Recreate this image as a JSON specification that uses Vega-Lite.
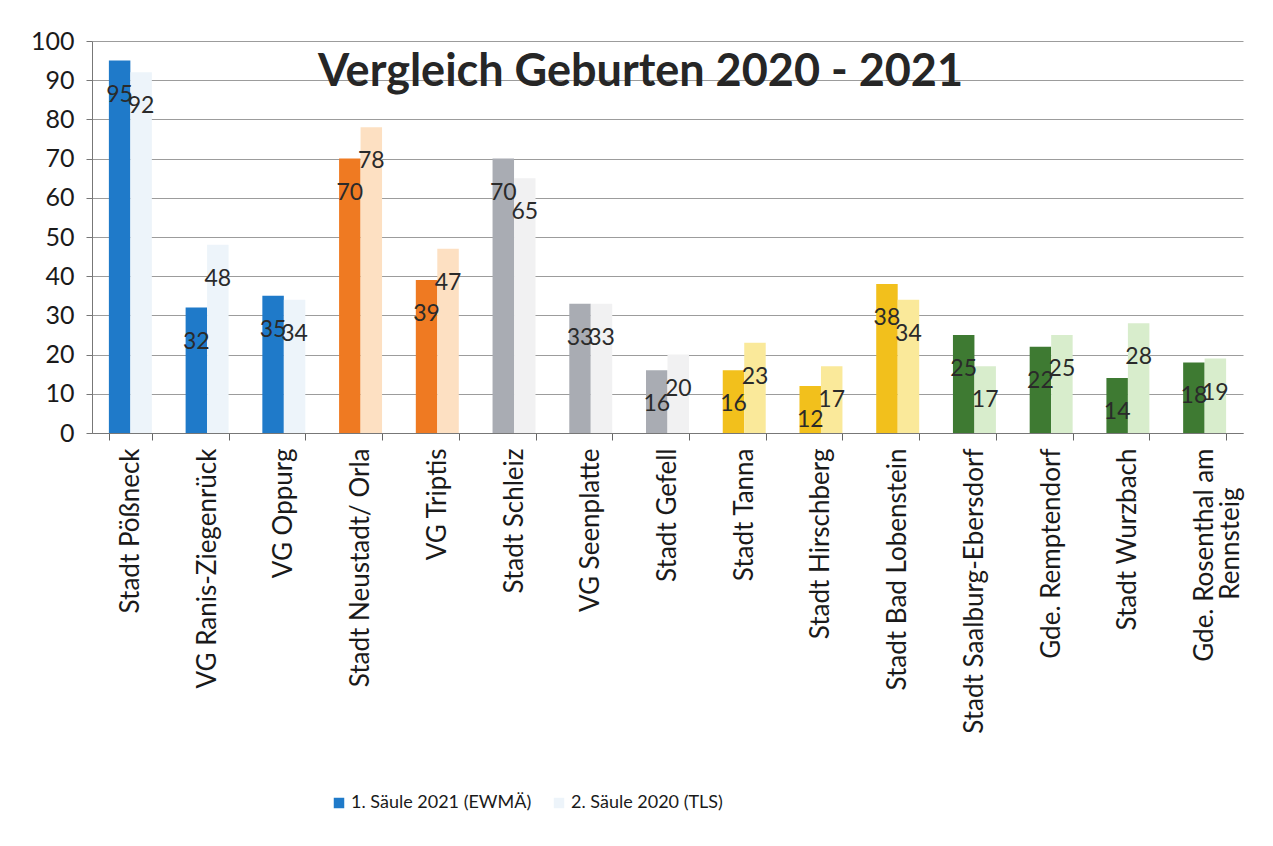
{
  "$schema": "https://vega.github.io/schema/vega-lite/v6.json",
  "width": 1151,
  "height": 392,
  "autosize": {"type": "none"},
  "padding": {"left": 92, "top": 41, "right": 30, "bottom": 413},
  "background": "white",
  "title": {
    "text": "Vergleich Geburten 2020 - 2021",
    "font": "Lato",
    "fontSize": 45,
    "fontWeight": "bold",
    "color": "#262626",
    "anchor": "middle",
    "frame": "group",
    "baseline": "alphabetic",
    "offset": -102,
    "dx": -27
  },
  "config": {
    "view": {"stroke": null},
    "font": "Lato"
  },
  "data": {
    "values": [
      {"Ort": "Stadt Pößneck", "Gruppe": "A", "Serie": "1. Säule 2021 (EWMÄ)", "Geburten": 95},
      {"Ort": "Stadt Pößneck", "Gruppe": "A", "Serie": "2. Säule 2020 (TLS)", "Geburten": 92},
      {"Ort": "VG Ranis-Ziegenrück", "Gruppe": "A", "Serie": "1. Säule 2021 (EWMÄ)", "Geburten": 32},
      {"Ort": "VG Ranis-Ziegenrück", "Gruppe": "A", "Serie": "2. Säule 2020 (TLS)", "Geburten": 48},
      {"Ort": "VG Oppurg", "Gruppe": "A", "Serie": "1. Säule 2021 (EWMÄ)", "Geburten": 35},
      {"Ort": "VG Oppurg", "Gruppe": "A", "Serie": "2. Säule 2020 (TLS)", "Geburten": 34},
      {"Ort": "Stadt Neustadt/ Orla", "Gruppe": "B", "Serie": "1. Säule 2021 (EWMÄ)", "Geburten": 70},
      {"Ort": "Stadt Neustadt/ Orla", "Gruppe": "B", "Serie": "2. Säule 2020 (TLS)", "Geburten": 78},
      {"Ort": "VG Triptis", "Gruppe": "B", "Serie": "1. Säule 2021 (EWMÄ)", "Geburten": 39},
      {"Ort": "VG Triptis", "Gruppe": "B", "Serie": "2. Säule 2020 (TLS)", "Geburten": 47},
      {"Ort": "Stadt Schleiz", "Gruppe": "C", "Serie": "1. Säule 2021 (EWMÄ)", "Geburten": 70},
      {"Ort": "Stadt Schleiz", "Gruppe": "C", "Serie": "2. Säule 2020 (TLS)", "Geburten": 65},
      {"Ort": "VG Seenplatte", "Gruppe": "C", "Serie": "1. Säule 2021 (EWMÄ)", "Geburten": 33},
      {"Ort": "VG Seenplatte", "Gruppe": "C", "Serie": "2. Säule 2020 (TLS)", "Geburten": 33},
      {"Ort": "Stadt Gefell", "Gruppe": "C", "Serie": "1. Säule 2021 (EWMÄ)", "Geburten": 16},
      {"Ort": "Stadt Gefell", "Gruppe": "C", "Serie": "2. Säule 2020 (TLS)", "Geburten": 20},
      {"Ort": "Stadt Tanna", "Gruppe": "D", "Serie": "1. Säule 2021 (EWMÄ)", "Geburten": 16},
      {"Ort": "Stadt Tanna", "Gruppe": "D", "Serie": "2. Säule 2020 (TLS)", "Geburten": 23},
      {"Ort": "Stadt Hirschberg", "Gruppe": "D", "Serie": "1. Säule 2021 (EWMÄ)", "Geburten": 12},
      {"Ort": "Stadt Hirschberg", "Gruppe": "D", "Serie": "2. Säule 2020 (TLS)", "Geburten": 17},
      {"Ort": "Stadt Bad Lobenstein", "Gruppe": "D", "Serie": "1. Säule 2021 (EWMÄ)", "Geburten": 38},
      {"Ort": "Stadt Bad Lobenstein", "Gruppe": "D", "Serie": "2. Säule 2020 (TLS)", "Geburten": 34},
      {"Ort": "Stadt Saalburg-Ebersdorf", "Gruppe": "E", "Serie": "1. Säule 2021 (EWMÄ)", "Geburten": 25},
      {"Ort": "Stadt Saalburg-Ebersdorf", "Gruppe": "E", "Serie": "2. Säule 2020 (TLS)", "Geburten": 17},
      {"Ort": "Gde. Remptendorf", "Gruppe": "E", "Serie": "1. Säule 2021 (EWMÄ)", "Geburten": 22},
      {"Ort": "Gde. Remptendorf", "Gruppe": "E", "Serie": "2. Säule 2020 (TLS)", "Geburten": 25},
      {"Ort": "Stadt Wurzbach", "Gruppe": "E", "Serie": "1. Säule 2021 (EWMÄ)", "Geburten": 14},
      {"Ort": "Stadt Wurzbach", "Gruppe": "E", "Serie": "2. Säule 2020 (TLS)", "Geburten": 28},
      {"Ort": "Gde. Rosenthal am Rennsteig", "Gruppe": "E", "Serie": "1. Säule 2021 (EWMÄ)", "Geburten": 18},
      {"Ort": "Gde. Rosenthal am Rennsteig", "Gruppe": "E", "Serie": "2. Säule 2020 (TLS)", "Geburten": 19}
    ]
  },
  "transform": [
    {"calculate": "datum.Gruppe + '|' + datum.Serie", "as": "Farbschluessel"}
  ],
  "encoding": {
    "x": {
      "field": "Ort",
      "type": "nominal",
      "sort": null,
      "scale": {"paddingInner": 0.44, "paddingOuter": 0.22},
      "axis": {
        "title": null,
        "labelAngle": -90,
        "labelAlign": "right",
        "labelBaseline": "middle",
        "labelFont": "Lato",
        "labelFontSize": 26,
        "labelColor": "#1a1a1a",
        "labelPadding": 8,
        "labelLimit": 400,
        "labelLineHeight": 26,
        "labelExpr": "datum.label == 'Gde. Rosenthal am Rennsteig' ? ['Gde. Rosenthal am', 'Rennsteig\u2003\u2003\u200b'] : datum.label",
        "tickBand": "extent",
        "tickSize": 7,
        "tickColor": "#666666",
        "domainColor": "#777777",
        "labelOverlap": false
      }
    },
    "xOffset": {
      "field": "Serie",
      "type": "nominal",
      "scale": {"domain": ["1. Säule 2021 (EWMÄ)", "2. Säule 2020 (TLS)"], "paddingInner": 0}
    },
    "y": {
      "field": "Geburten",
      "type": "quantitative",
      "scale": {"domain": [0, 100], "nice": false},
      "axis": {
        "title": null,
        "values": [0, 10, 20, 30, 40, 50, 60, 70, 80, 90, 100],
        "labelFont": "Lato",
        "labelFontSize": 25,
        "labelColor": "#1a1a1a",
        "labelPadding": 12,
        "tickSize": 6,
        "tickColor": "#777777",
        "domainColor": "#777777",
        "gridColor": "#9c9c9c",
        "gridWidth": 1
      }
    }
  },
  "layer": [
    {
      "mark": {"type": "bar"},
      "encoding": {
        "color": {
          "field": "Farbschluessel",
          "type": "nominal",
          "scale": {
            "domain": [
              "A|1. Säule 2021 (EWMÄ)", "A|2. Säule 2020 (TLS)",
              "B|1. Säule 2021 (EWMÄ)", "B|2. Säule 2020 (TLS)",
              "C|1. Säule 2021 (EWMÄ)", "C|2. Säule 2020 (TLS)",
              "D|1. Säule 2021 (EWMÄ)", "D|2. Säule 2020 (TLS)",
              "E|1. Säule 2021 (EWMÄ)", "E|2. Säule 2020 (TLS)"
            ],
            "range": [
              "#1f7ac9", "#edf4fa",
              "#ef7a22", "#fde0c2",
              "#a9acb3", "#f1f1f2",
              "#f2c01c", "#fae99a",
              "#3e7a32", "#d8edcc"
            ]
          },
          "legend": {
            "values": ["A|1. Säule 2021 (EWMÄ)", "A|2. Säule 2020 (TLS)"],
            "labelExpr": "split(datum.label, '|')[1]",
            "title": null,
            "orient": "none",
            "direction": "horizontal",
            "legendX": 238,
            "legendY": 753,
            "symbolType": "square",
            "symbolSize": 110,
            "symbolStrokeWidth": 0,
            "labelFont": "Lato",
            "labelFontSize": 18,
            "labelColor": "#1a1a1a",
            "columnPadding": 18,
            "labelOffset": 3,
            "labelLimit": 400
          }
        }
      }
    },
    {
      "mark": {"type": "text", "baseline": "middle", "dy": 34, "font": "Lato", "fontSize": 23, "color": "#2a2a2a"},
      "encoding": {
        "text": {"field": "Geburten", "type": "quantitative"}
      }
    }
  ]
}
